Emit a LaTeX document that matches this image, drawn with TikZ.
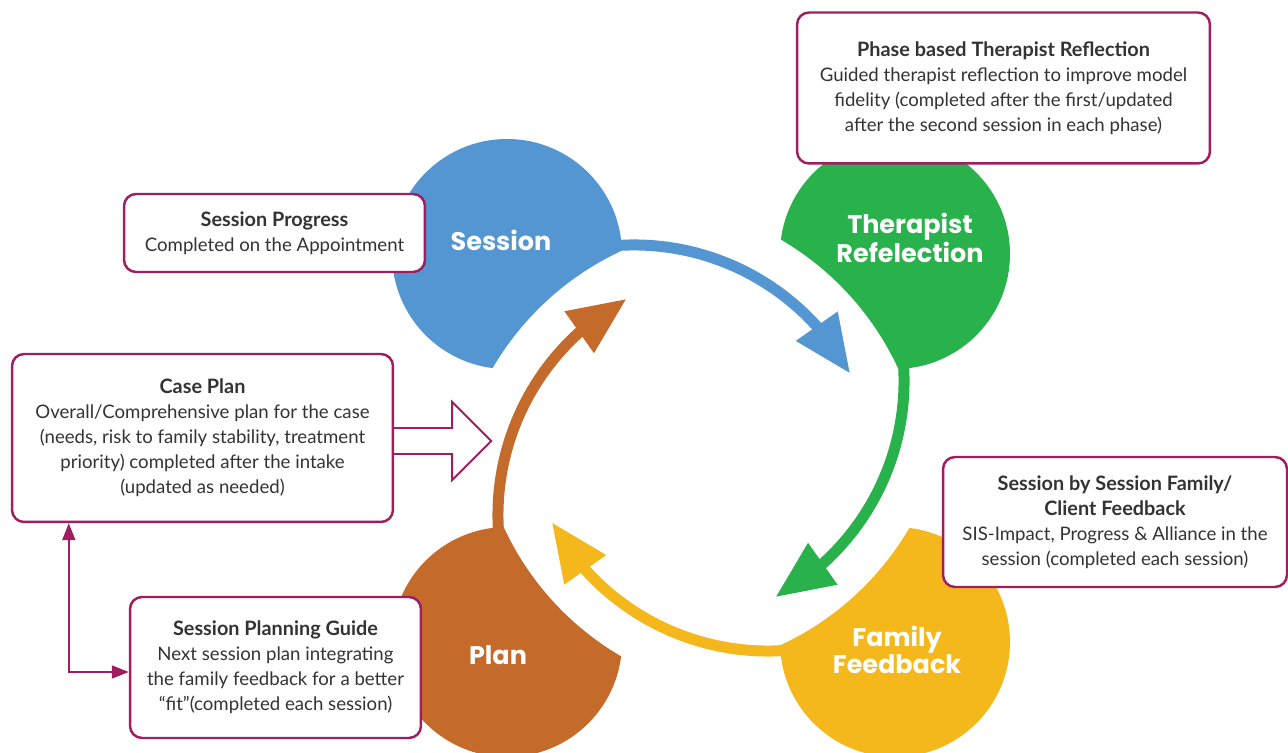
\documentclass[tikz,border=0pt]{standalone}
\usepackage{fontspec}
\setmainfont{Lato}
\newfontfamily\blobfont{Poppins}
\usepackage{tikz}
\usetikzlibrary{positioning, arrows.meta, bending}
\usepackage{xcolor}

\definecolor{sessionblue}{RGB}{84,150,210}
\definecolor{reflectgreen}{RGB}{41,178,76}
\definecolor{feedbackyellow}{RGB}{245,184,28}
\definecolor{planorange}{RGB}{196,106,42}
\definecolor{boxline}{RGB}{160,30,96}
\definecolor{boxtext}{RGB}{51,51,51}

\newcommand{\boxtitle}[1]{{\bfseries\fontsize{11.3}{14.2}\selectfont #1}}

\tikzset{
	infobox/.style={draw=boxline, line width=1.4pt, fill=white, rounded corners=0.24cm, inner sep=0pt, align=center, text=boxtext, font=\fontsize{10.6}{14.2}\selectfont},
	blobtext/.style={text=white, align=center, font=\blobfont\bfseries\fontsize{14.5}{13.6}\selectfont},
	cycle arrow/.style={line width=0.22cm, -{Triangle[length=1.16cm, width=0.96cm]}},
	link/.style={boxline, line width=1.1pt}
}

\begin{document}
\begin{tikzpicture}[x=0.02cm, y=0.02cm]
	\useasboundingbox (0,0) rectangle (1288,753);
	% Blobs
	\fill[sessionblue] (507,499) circle[radius=115];
	\fill[reflectgreen] (895,499) circle[radius=115];
	\fill[feedbackyellow] (895,111) circle[radius=115];
	\fill[planorange] (507,111) circle[radius=115];
	% White gaps around the cycle arrows
	\fill[white] (634,262) -- (907.5,361.5) arc[start angle=20, end angle=80, radius=291] -- cycle;
	\fill[white] (658,372) -- (757.5,98.5) arc[start angle=-70, end angle=-10, radius=291] -- cycle;
	\fill[white] (768,348) -- (494.5,248.5) arc[start angle=-160, end angle=-100, radius=291] -- cycle;
	\fill[white] (744,238) -- (644.5,511.5) arc[start angle=110, end angle=170, radius=291] -- cycle;
	% Cycle arrows
	\draw[cycle arrow, sessionblue] (604,506.2) arc[start angle=97, end angle=28.5, radius=246];
	\draw[cycle arrow, reflectgreen] (902.2,402) arc[start angle=7, end angle=-61.5, radius=246];
	\draw[cycle arrow, feedbackyellow] (798,103.8) arc[start angle=-83, end angle=-151.5, radius=246];
	\draw[cycle arrow, planorange] (499.8,208) arc[start angle=187, end angle=118.5, radius=246];
	% Blob labels
	\node[blobtext] (sessionlabel) at (501,513) {Session};
	\node[blobtext] (reflectlabel) at (910,515) {Therapist\\Refelection};
	\node[blobtext] (feedbacklabel) at (897,103) {Family\\Feedback};
	\node[blobtext] (planlabel) at (498,98) {Plan};
	% Boxes
	\node[infobox, minimum width=8.26cm, minimum height=3.02cm] (phase) at (1003.5,665) {\boxtitle{Phase based Therapist Reflection}\\Guided therapist reflection to improve model\\fidelity (completed after the first/updated\\after the second session in each phase)};
	\node[infobox, minimum width=6.02cm, minimum height=1.56cm] (progress) at (274.5,520) {\boxtitle{Session Progress}\\Completed on the Appointment};
	\node[infobox, minimum width=7.62cm, minimum height=3.36cm] (caseplan) at (202.5,315) {\boxtitle{Case Plan}\\Overall/Comprehensive plan for the case\\(needs, risk to family stability, treatment\\priority) completed after the intake\\(updated as needed)};
	\node[infobox, minimum width=6.88cm, minimum height=2.6cm] (clientfb) at (1115,231) {\boxtitle{Session by Session Family/}\\\boxtitle{Client Feedback}\\SIS-Impact, Progress \& Alliance in the\\session (completed each session)};
	\node[infobox, minimum width=5.82cm, minimum height=2.82cm] (guide) at (275.5,85.5) {\boxtitle{Session Planning Guide}\\Next session plan integrating\\the family feedback for a better\\``fit''(completed each session)};
	% Links
	\draw[link] ([yshift=0.2cm]caseplan.east) -- ++(58,0) -- ++(0,26) -- ++(39,-39) -- ++(-39,-39) -- ++(0,26) -- ++(-58,0);
	\draw[link, {Triangle[length=0.34cm, width=0.26cm]}-{Triangle[length=0.34cm, width=0.26cm]}] ([xshift=1.16cm]caseplan.south west) |- ([yshift=-0.09cm]guide.west);
\end{tikzpicture}
\end{document}
